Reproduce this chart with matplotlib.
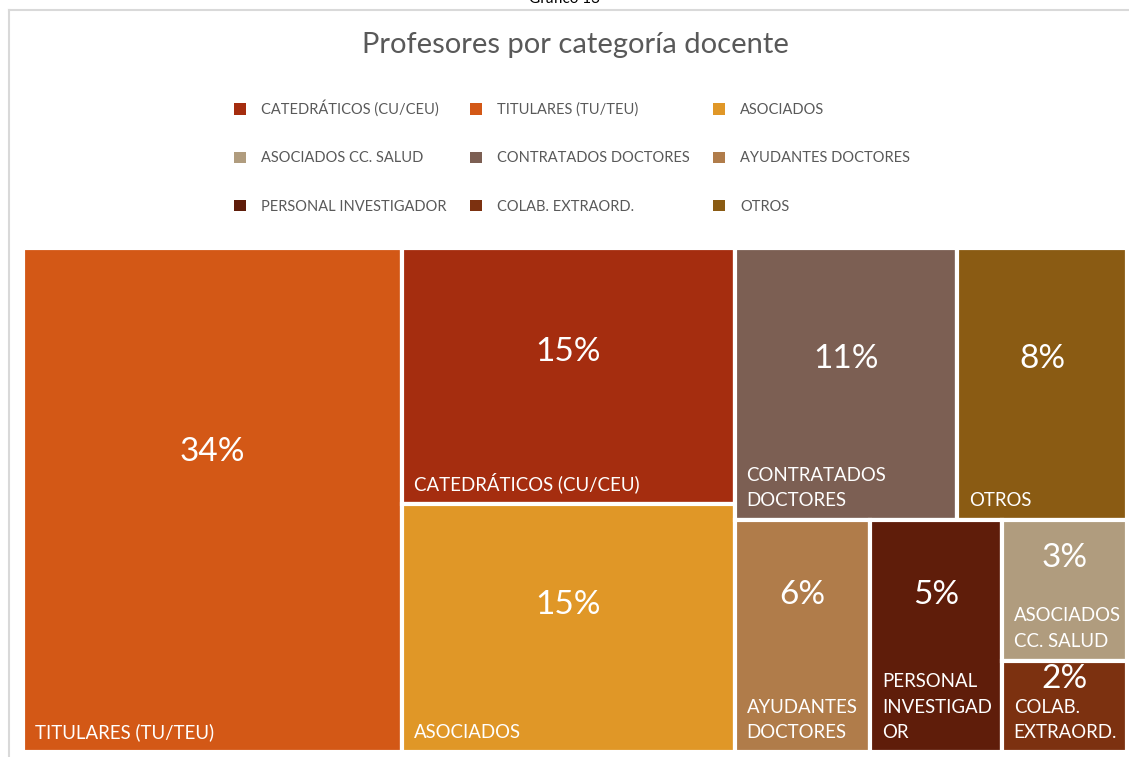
import matplotlib
matplotlib.use("Agg")
import matplotlib.pyplot as plt
from matplotlib.patches import Rectangle, Patch
from matplotlib.lines import Line2D

plt.rcParams['font.family'] = ['Lato', 'DejaVu Sans']

# categories in legend order
categories = ["CATEDRÁTICOS (CU/CEU)", "TITULARES (TU/TEU)", "ASOCIADOS",
              "ASOCIADOS CC. SALUD", "CONTRATADOS DOCTORES", "AYUDANTES DOCTORES",
              "PERSONAL INVESTIGADOR", "COLAB. EXTRAORD.", "OTROS"]
# labels as they are wrapped inside the boxes
box_labels = ["CATEDRÁTICOS (CU/CEU)", "TITULARES (TU/TEU)", "ASOCIADOS",
              "ASOCIADOS\nCC. SALUD", "CONTRATADOS\nDOCTORES", "AYUDANTES\nDOCTORES",
              "PERSONAL\nINVESTIGAD\nOR", "COLAB.\nEXTRAORD.", "OTROS"]
shares = [15.29, 34.36, 14.80, 3.16, 10.90, 5.65, 5.48, 2.06, 8.30]
colors = ["#a52d0f", "#d35816", "#e09727", "#b09c7e", "#7c5f53",
          "#b07c4a", "#5f1d0a", "#7c3110", "#8a5b13"]

W, H = 1104.0, 504.0


def worst(row, side):
    s = sum(row)
    return max(max(side * side * r / (s * s), s * s / (side * side * r)) for r in row)


def squarify(areas, x, y, dx, dy):
    # areas sorted descending, sum = dx*dy ; y grows downwards
    rects = []
    areas = list(areas)
    while areas:
        side = min(dx, dy)
        row = [areas[0]]
        i = 1
        while i < len(areas) and worst(row + [areas[i]], side) <= worst(row, side):
            row.append(areas[i])
            i += 1
        areas = areas[i:]
        s = sum(row)
        if dx >= dy:
            w = s / dy
            yy = y
            for a in row:
                h = a / w
                rects.append((x, yy, w, h))
                yy += h
            x += w
            dx -= w
        else:
            h = s / dx
            xx = x
            for a in row:
                w = a / h
                rects.append((xx, y, w, h))
                xx += w
            y += h
            dy -= h
    return rects


fig = plt.figure(figsize=(11.29, 7.57), dpi=100)

order = sorted(range(len(shares)), key=lambda k: -shares[k])
total = sum(shares)
areas = [shares[k] / total * W * H for k in order]
rects = squarify(areas, 0, 0, W, H)

ax = fig.add_axes([23 / 1129, 5 / 757, W / 1129, H / 757])
ax.set_xlim(0, W)
ax.set_ylim(H, 0)
ax.axis('off')

for k, (x, y, w, h) in zip(order, rects):
    ax.add_patch(Rectangle((x, y), w, h, facecolor=colors[k], edgecolor='white',
                           linewidth=3.0, clip_on=False))
    off = 0.4 * h + 2 if h > 240 else 0.4 * h - 18
    ax.text(x + w / 2, y + off, f"{shares[k]:.0f}%", color='white', fontsize=24,
            ha='center', va='center')
    ax.text(x + 12, y + h - 11, box_labels[k], color='white', fontsize=13.4,
            ha='left', va='bottom', linespacing=1.6)

# title and caption
fig.text(575 / 1129, 1 - 45 / 757, "Profesores por categoría docente", ha='center', va='center',
         fontsize=21, color='#595959')
fig.text(0.5, 1 + 1 / 757, "Gráfico 13", ha='center', va='center', fontsize=11, color='black')

# legend, row-wise order
handles = [Patch(facecolor=c, edgecolor='none') for c in colors]
idx = [0, 3, 6, 1, 4, 7, 2, 5, 8]
fig.legend([handles[i] for i in idx], [categories[i] for i in idx], ncol=3,
           loc='center', bbox_to_anchor=(572 / 1129, 1 - 157 / 757), frameon=False,
           fontsize=10.5, labelcolor='#595959', handlelength=0.85, handleheight=0.85,
           handletextpad=1.0, columnspacing=1.6, labelspacing=2.35)

# frame lines of the chart area
fig.add_artist(Line2D([8.5 / 1129, 8.5 / 1129], [0, 1 - 10 / 757], color='#d9d9d9', lw=1.5))
fig.add_artist(Line2D([8.5 / 1129, 1], [1 - 10 / 757, 1 - 10 / 757], color='#d9d9d9', lw=1.5))

fig.savefig("out.png", dpi=100)
